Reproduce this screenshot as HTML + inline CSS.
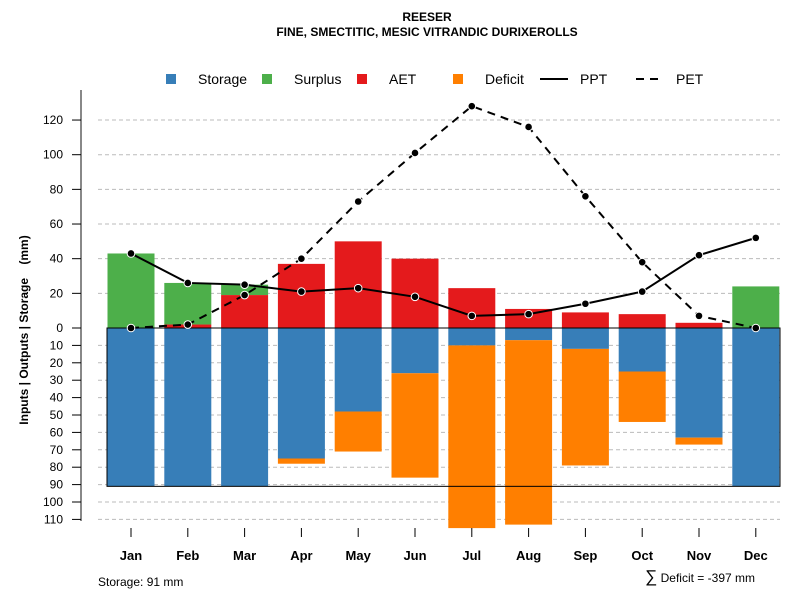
<!DOCTYPE html>
<html><head><meta charset="utf-8"><style>
body{margin:0;background:#fff}
svg text{font-family:"Liberation Sans",Arial,sans-serif}
</style></head><body>
<svg id="c" width="800" height="600" xmlns="http://www.w3.org/2000/svg">
<text x="427" y="21" text-anchor="middle" font-size="12" font-weight="bold">REESER</text>
<text x="427" y="36" text-anchor="middle" font-size="12" font-weight="bold">FINE, SMECTITIC, MESIC VITRANDIC DURIXEROLLS</text>
<text transform="translate(28,330) rotate(-90)" text-anchor="middle" font-size="12" font-weight="bold">Inputs | Outputs | Storage&#160;&#160;&#160;&#160;(mm)</text>
<text x="98" y="586" font-size="12">Storage: 91 mm</text>
<text x="755" y="582" text-anchor="end" font-size="12"><tspan font-size="17">∑</tspan> Deficit = -397 mm</text>
<g id="legend">
<rect x="166" y="74" width="10" height="10" fill="#377EB8"/><text x="198" y="84" font-size="14">Storage</text>
<rect x="262" y="74" width="10" height="10" fill="#4DAF4A"/><text x="294" y="84" font-size="14">Surplus</text>
<rect x="357" y="74" width="10" height="10" fill="#E41A1C"/><text x="389" y="84" font-size="14">AET</text>
<rect x="453" y="74" width="10" height="10" fill="#FF7F00"/><text x="485" y="84" font-size="14">Deficit</text>
<line x1="540" y1="79" x2="568" y2="79" stroke="#000" stroke-width="2"/><text x="580" y="84" font-size="14">PPT</text>
<line x1="636" y1="79" x2="664" y2="79" stroke="#000" stroke-width="2" stroke-dasharray="8,6"/><text x="676" y="84" font-size="14">PET</text>
</g>
</svg>
<script>
const months=["Jan","Feb","Mar","Apr","May","Jun","Jul","Aug","Sep","Oct","Nov","Dec"];
const storage=[91,91,91,75,48,26,10,7,12,25,63,91];
const deficit=[0,0,0,3,23,60,105,106,67,29,4,0];
const surplus=[43,24,6,0,0,0,0,0,0,0,0,24];
const aet=[0,2,19,37,50,40,23,11,9,8,3,0];
const ppt=[43,26,25,21,23,18,7,8,14,21,42,52];
const pet=[0,2,19,40,73,101,128,116,76,38,7,0];
const posTicks=[0,20,40,60,80,100,120];
const negTicks=[10,20,30,40,50,60,70,80,90,100,110];
const storageCap=91;
const NS="http://www.w3.org/2000/svg";
const svg=document.getElementById('c');
const y0=328, kp=1.733, kn=1.74;
function yPos(v){return y0-v*kp;}
function yNeg(v){return y0+v*kn;}
function xC(i){return 131+i*56.8;}
const bw=47;
function mk(tag,attrs,name){const e=document.createElementNS(NS,tag);for(const k in attrs)e.setAttribute(k,attrs[k]);


svg.appendChild(e);return e;}
posTicks.forEach(t=>{ if(t>0) mk('line',{x1:98,x2:780,y1:yPos(t),y2:yPos(t),stroke:'#bbb','stroke-dasharray':'4,3'},'grid-line');});
negTicks.forEach(t=>{mk('line',{x1:98,x2:780,y1:yNeg(t),y2:yNeg(t),stroke:'#bbb','stroke-dasharray':'4,3'},'grid-line');});
mk('line',{x1:81,x2:81,y1:90,y2:521,stroke:'#888','stroke-width':2},'y-axis-line');
posTicks.forEach(t=>{const y=yPos(t);mk('line',{x1:72,x2:81,y1:y,y2:y,stroke:'#000'},'y-tick');
const tx=mk('text',{x:63,y:y+4,'text-anchor':'end','font-size':12},'y-tick-label');tx.textContent=t;});
negTicks.forEach(t=>{const y=yNeg(t);mk('line',{x1:72,x2:81,y1:y,y2:y,stroke:'#000'},'y-tick');
const tx=mk('text',{x:63,y:y+4,'text-anchor':'end','font-size':12},'y-tick-label');tx.textContent=t;});
months.forEach((m,i)=>{const x=xC(i)-bw/2;
if(surplus[i]>0)mk('rect',{x:x,y:yPos(aet[i]+surplus[i]),width:bw,height:surplus[i]*kp,fill:'#4DAF4A'},'bar-surplus-'+m.toLowerCase());
if(aet[i]>0)mk('rect',{x:x,y:yPos(aet[i]),width:bw,height:aet[i]*kp,fill:'#E41A1C'},'bar-aet-'+m.toLowerCase());
mk('rect',{x:x,y:y0,width:bw,height:storage[i]*kn,fill:'#377EB8'},'bar-storage-'+m.toLowerCase());
if(deficit[i]>0)mk('rect',{x:x,y:yNeg(storage[i]),width:bw,height:deficit[i]*kn,fill:'#FF7F00'},'bar-deficit-'+m.toLowerCase());
mk('line',{x1:xC(i),x2:xC(i),y1:528,y2:537,stroke:'#000'},'x-tick');
const tx=mk('text',{x:xC(i),y:560,'text-anchor':'middle','font-size':13,'font-weight':'bold'},'x-tick-label');tx.textContent=m;
});
mk('rect',{x:107,y:y0,width:673,height:storageCap*kn,fill:'none',stroke:'#000','stroke-width':1},'storage-capacity-box');
function line(arr,dash,name){const pts=arr.map((v,i)=>xC(i)+','+yPos(v)).join(' ');
const a={points:pts,fill:'none',stroke:'#000','stroke-width':2};if(dash)a['stroke-dasharray']='8,6';mk('polyline',a,name);
arr.forEach((v,i)=>mk('circle',{cx:xC(i),cy:yPos(v),r:3.8,fill:'#000',stroke:'#fff','stroke-width':1},name+'-point'));}
line(pet,true,'pet-line');
line(ppt,false,'ppt-line');
</script>
</body></html>
